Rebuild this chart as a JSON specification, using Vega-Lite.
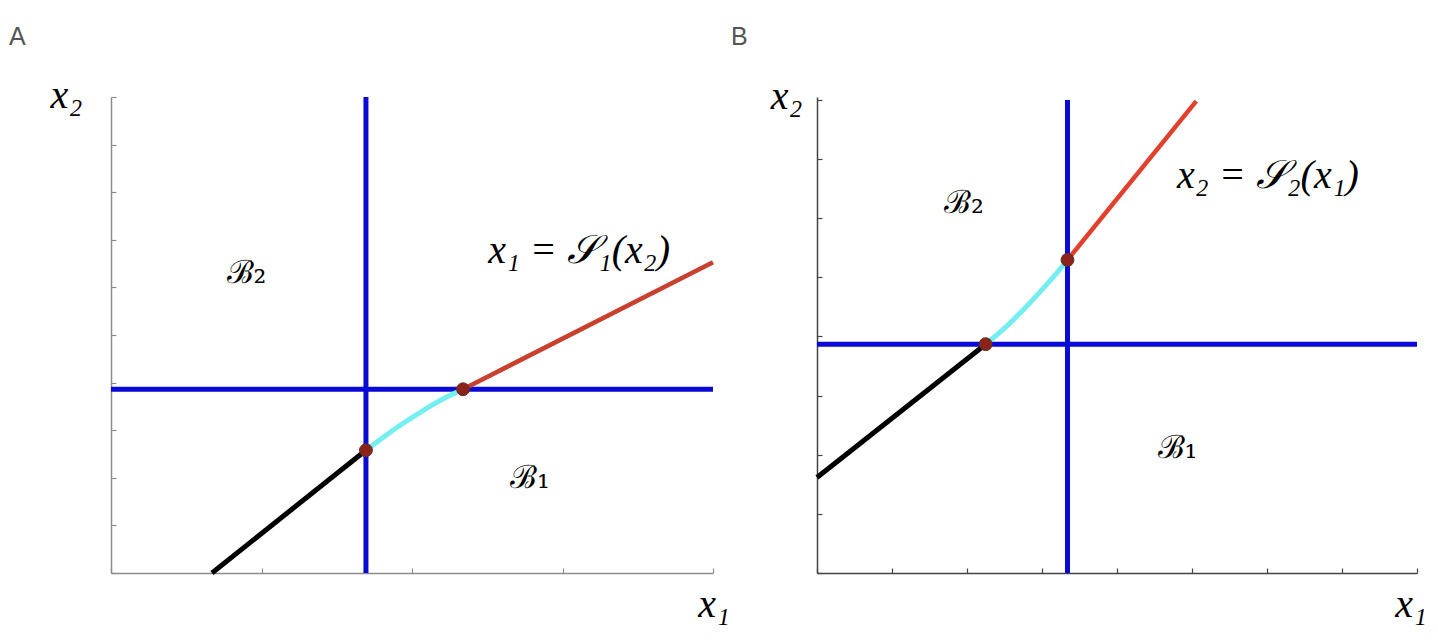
{
  "$schema": "https://vega.github.io/schema/vega-lite/v6.json",
  "background": "white",
  "padding": {"left": 8, "top": 24, "right": 5, "bottom": 5},
  "spacing": 104,
  "bounds": "flush",
  "config": {"view": {"stroke": null}},
  "hconcat": [
    {
      "width": 602,
      "height": 476,
      "encoding": {
        "x": {"field": "x", "type": "quantitative", "scale": {"domain": [0, 4], "nice": false, "zero": false},
          "axis": {"values": [0, 1, 2, 3, 4], "labels": false, "title": null, "grid": false, "domainColor": "#8c8c8c", "tickColor": "#8c8c8c", "tickSize": -5, "domainWidth": 1.5, "tickWidth": 1.2}},
        "y": {"field": "y", "type": "quantitative", "scale": {"domain": [0, 10], "nice": false, "zero": false},
          "axis": {"values": [0, 1, 2, 3, 4, 5, 6, 7, 8, 9, 10], "labels": false, "title": null, "grid": false, "domainColor": "#8c8c8c", "tickColor": "#8c8c8c", "tickSize": -5, "domainWidth": 1.5, "tickWidth": 1.2}}
      },
      "layer": [
        {
          "data": {"values": [
            {"seg": "v", "i": 0, "x": 1.694, "y": 0},
            {"seg": "v", "i": 1, "x": 1.694, "y": 10},
            {"seg": "h", "i": 0, "x": 0, "y": 3.86},
            {"seg": "h", "i": 1, "x": 4, "y": 3.86}
          ]},
          "mark": {"type": "line", "color": "#0a0ad6", "strokeWidth": 5},
          "encoding": {"detail": {"field": "seg"}, "order": {"field": "i"}}
        },
        {
          "data": {"values": [
            {"x": 0.671, "y": 0},
            {"x": 1.694, "y": 2.58}
          ]},
          "mark": {"type": "line", "color": "#000000", "strokeWidth": 5}
        },
        {
          "data": {"values": [
            {"x": 1.694, "y": 2.58},
            {"x": 1.794, "y": 2.815},
            {"x": 1.914, "y": 3.088},
            {"x": 2.047, "y": 3.361},
            {"x": 2.193, "y": 3.634},
            {"x": 2.339, "y": 3.86}
          ]},
          "mark": {"type": "line", "color": "#74eef0", "strokeWidth": 5, "interpolate": "monotone"}
        },
        {
          "data": {"values": [
            {"x": 2.339, "y": 3.86},
            {"x": 4.0, "y": 6.53}
          ]},
          "mark": {"type": "line", "color": "#c8402e", "strokeWidth": 4.5}
        },
        {
          "data": {"values": [
            {"x": 1.694, "y": 2.58},
            {"x": 2.339, "y": 3.86}
          ]},
          "mark": {"type": "circle", "size": 165, "fill": "#8b2318", "stroke": "#5a3030", "strokeWidth": 1, "opacity": 1}
        },
        {
          "data": {"values": [
            {"x": -0.296, "y": 9.77, "label": "x₂"},
            {"x": 4.007, "y": -0.924, "label": "x₁"},
            {"x": 3.11, "y": 6.51, "label": "x₁ = 𝒮₁(x₂)"}
          ]},
          "mark": {"type": "text", "font": "Liberation Serif", "fontStyle": "italic", "fontSize": 40, "align": "center", "baseline": "alphabetic", "color": "#000000"},
          "encoding": {"text": {"field": "label"}}
        },
        {
          "data": {"values": [
            {"x": 0.9, "y": 6.09, "label": "ℬ₂"},
            {"x": 2.784, "y": 1.786, "label": "ℬ₁"}
          ]},
          "mark": {"type": "text", "font": "DejaVu Serif", "fontSize": 32, "align": "center", "baseline": "alphabetic", "color": "#000000"},
          "encoding": {"text": {"field": "label"}}
        },
        {
          "data": {"values": [
            {"x": -0.678, "y": 11.09, "label": "A"}
          ]},
          "mark": {"type": "text", "font": "Liberation Sans", "fontSize": 25, "align": "left", "baseline": "alphabetic", "color": "#555555"},
          "encoding": {"text": {"field": "label"}}
        }
      ]
    },
    {
      "width": 600,
      "height": 476,
      "encoding": {
        "x": {"field": "x", "type": "quantitative", "scale": {"domain": [0, 8], "nice": false, "zero": false},
          "axis": {"values": [0, 1, 2, 3, 4, 5, 6, 7, 8], "labels": false, "title": null, "grid": false, "domainColor": "#444444", "tickColor": "#444444", "tickSize": -5, "domainWidth": 1.5, "tickWidth": 1.2}},
        "y": {"field": "y", "type": "quantitative", "scale": {"domain": [0, 8.05], "nice": false, "zero": false},
          "axis": {"values": [0, 1, 2, 3, 4, 5, 6, 7, 8], "labels": false, "title": null, "grid": false, "domainColor": "#444444", "tickColor": "#444444", "tickSize": -5, "domainWidth": 1.5, "tickWidth": 1.2}}
      },
      "layer": [
        {
          "data": {"values": [
            {"seg": "v", "i": 0, "x": 3.34, "y": 0},
            {"seg": "v", "i": 1, "x": 3.34, "y": 8},
            {"seg": "h", "i": 0, "x": 0, "y": 3.87},
            {"seg": "h", "i": 1, "x": 8, "y": 3.87}
          ]},
          "mark": {"type": "line", "color": "#0a0ad6", "strokeWidth": 5},
          "encoding": {"detail": {"field": "seg"}, "order": {"field": "i"}}
        },
        {
          "data": {"values": [
            {"x": 0, "y": 1.615},
            {"x": 2.249, "y": 3.87}
          ]},
          "mark": {"type": "line", "color": "#000000", "strokeWidth": 5}
        },
        {
          "data": {"values": [
            {"x": 2.249, "y": 3.87},
            {"x": 2.516, "y": 4.157},
            {"x": 2.783, "y": 4.495},
            {"x": 3.049, "y": 4.861},
            {"x": 3.204, "y": 5.085},
            {"x": 3.34, "y": 5.295}
          ]},
          "mark": {"type": "line", "color": "#74eef0", "strokeWidth": 5, "interpolate": "monotone"}
        },
        {
          "data": {"values": [
            {"x": 3.34, "y": 5.295},
            {"x": 5.057, "y": 7.98}
          ]},
          "mark": {"type": "line", "color": "#e0402c", "strokeWidth": 4.5}
        },
        {
          "data": {"values": [
            {"x": 2.249, "y": 3.87},
            {"x": 3.34, "y": 5.295}
          ]},
          "mark": {"type": "circle", "size": 165, "fill": "#8b2318", "stroke": "#5a3030", "strokeWidth": 1, "opacity": 1}
        },
        {
          "data": {"values": [
            {"x": -0.407, "y": 7.85, "label": "x₂"},
            {"x": 7.92, "y": -0.743, "label": "x₁"},
            {"x": 6.013, "y": 6.51, "label": "x₂ = 𝒮₂(x₁)"}
          ]},
          "mark": {"type": "text", "font": "Liberation Serif", "fontStyle": "italic", "fontSize": 40, "align": "center", "baseline": "alphabetic", "color": "#000000"},
          "encoding": {"text": {"field": "label"}}
        },
        {
          "data": {"values": [
            {"x": 1.96, "y": 6.08, "label": "ℬ₂"},
            {"x": 4.807, "y": 1.94, "label": "ℬ₁"}
          ]},
          "mark": {"type": "text", "font": "DejaVu Serif", "fontSize": 32, "align": "center", "baseline": "alphabetic", "color": "#000000"},
          "encoding": {"text": {"field": "label"}}
        },
        {
          "data": {"values": [
            {"x": -1.147, "y": 8.93, "label": "B"}
          ]},
          "mark": {"type": "text", "font": "Liberation Sans", "fontSize": 25, "align": "left", "baseline": "alphabetic", "color": "#555555"},
          "encoding": {"text": {"field": "label"}}
        }
      ]
    }
  ]
}
